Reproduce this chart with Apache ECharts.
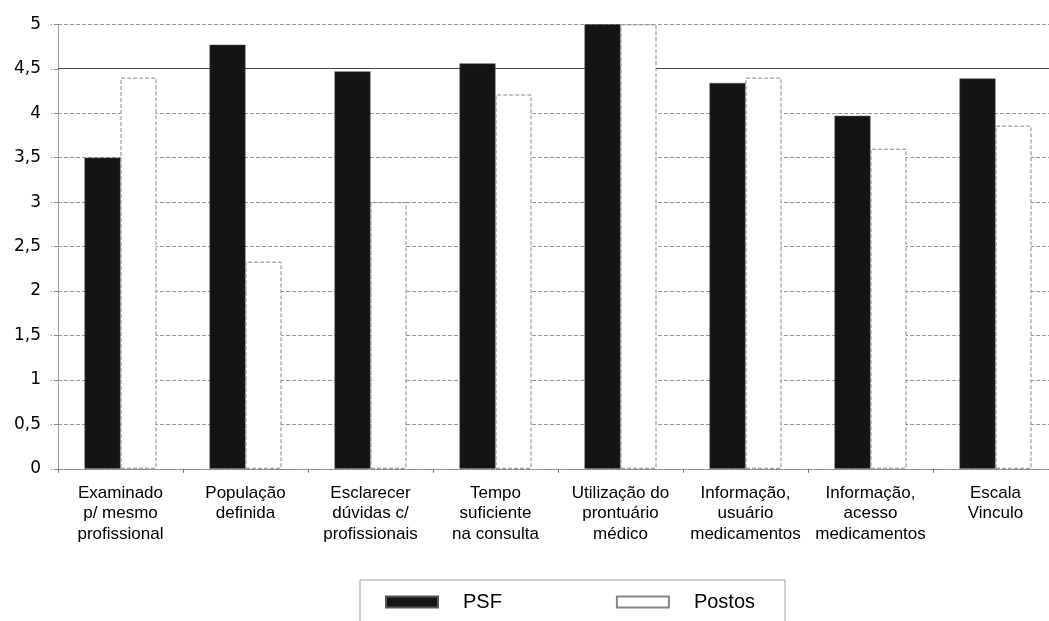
<!DOCTYPE html>
<html>
<head>
<meta charset="utf-8">
<script src="https://cdn.jsdelivr.net/npm/echarts@6/dist/echarts.min.js"></script>
<style>
  html, body { margin: 0; padding: 0; background: #fff; overflow: hidden; }
  /* plot runs slightly past the right edge of the page */
  #chart { width: 1060px; height: 621px; }
</style>
</head>
<body>
<div id="chart"></div>
<script>
// Categories of the questionnaire items
const categories = [
  'Examinado\np/ mesmo\nprofissional',
  'População\ndefinida',
  'Esclarecer\ndúvidas c/\nprofissionais',
  'Tempo\nsuficiente\nna consulta',
  'Utilização do\nprontuário\nmédico',
  'Informação,\nusuário\nmedicamentos',
  'Informação,\nacesso\nmedicamentos',
  'Escala\nVinculo'
];

// Mean scores per service type
const psfValues    = [3.5, 4.77, 4.47, 4.56, 5.0, 4.34, 3.97, 4.39];
const postosValues = [4.4, 2.33, 3.0, 4.21, 5.0, 4.4, 3.6, 3.86];

const seriesNames = ['PSF', 'Postos'];

const chart = echarts.init(document.getElementById('chart'), null, { renderer: 'canvas' });

const fontFamily = '"Liberation Sans", Arial, sans-serif';

chart.setOption({
  animation: false,
  backgroundColor: '#ffffff',
  textStyle: { fontFamily: fontFamily },
  grid: { left: 58, top: 24.3, right: 2, height: 444.5 },
  legend: {
    data: seriesNames,
    icon: 'rect',
    left: 360,
    top: 580,
    orient: 'horizontal',
    itemWidth: 52,
    itemHeight: 11,
    itemGap: 114,
    padding: [12, 30, 30, 25],
    borderColor: '#a0a0a0',
    borderWidth: 1,
    textStyle: { fontSize: 20, color: '#000', fontFamily: fontFamily, padding: [0, 0, 0, 20] }
  },
  xAxis: {
    type: 'category',
    data: categories,
    axisLine: { show: true, lineStyle: { color: '#888', type: 'dotted', width: 1 } },
    axisTick: { show: true, alignWithLabel: false, length: 4, lineStyle: { color: '#777' } },
    axisLabel: {
      interval: 0,
      fontSize: 17,
      lineHeight: 20.5,
      margin: 14,
      color: '#000',
      fontFamily: fontFamily
    },
    splitLine: { show: false }
  },
  yAxis: {
    type: 'value',
    min: 0,
    max: 5,
    interval: 0.5,
    axisLine: { show: true, lineStyle: { color: '#888', type: 'dotted', width: 1 } },
    axisTick: { show: true, length: 7, lineStyle: { color: '#888', type: 'dashed' } },
    axisLabel: {
      fontSize: 17,
      margin: 17,
      color: '#000',
      fontFamily: '"DejaVu Sans", sans-serif',
      formatter: v => String(v).replace('.', ',')
    },
    splitLine: { show: true, lineStyle: { color: '#999', type: 'dashed', width: 1 } }
  },
  series: [
    {
      name: seriesNames[0],
      type: 'bar',
      data: psfValues,
      barWidth: 36,
      barGap: '0%',
      itemStyle: { color: '#141414', borderColor: '#555', borderWidth: 0.5 },
      markLine: {
        silent: true,
        z: 1,
        symbol: ['none', 'none'],
        label: { show: false },
        lineStyle: { color: '#4a4a4a', type: 'solid', width: 1 },
        data: [{ yAxis: 4.5 }]
      }
    },
    {
      name: seriesNames[1],
      type: 'bar',
      data: postosValues,
      barWidth: 36,
      itemStyle: { color: '#ffffff', borderColor: '#888', borderWidth: 1, borderType: 'dashed' }
    }
  ]
});
</script>
</body>
</html>
